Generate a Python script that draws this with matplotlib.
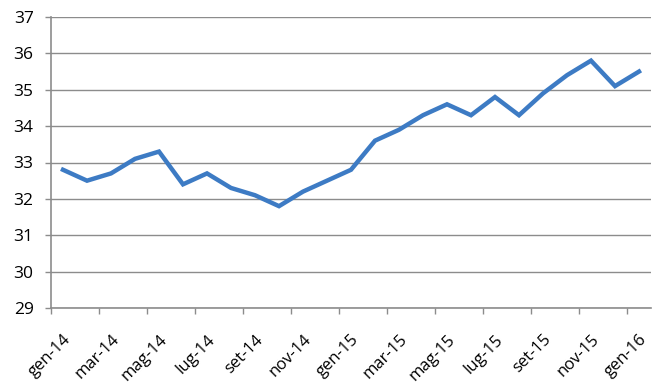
import matplotlib
matplotlib.use("Agg")
import matplotlib.pyplot as plt
from matplotlib.ticker import FixedLocator, NullFormatter

months = ["gen-14", "feb-14", "mar-14", "apr-14", "mag-14", "giu-14", "lug-14", "ago-14",
          "set-14", "ott-14", "nov-14", "dic-14", "gen-15", "feb-15", "mar-15", "apr-15",
          "mag-15", "giu-15", "lug-15", "ago-15", "set-15", "ott-15", "nov-15", "dic-15",
          "gen-16"]
values = [32.8, 32.5, 32.7, 33.1, 33.3, 32.4, 32.7, 32.3, 32.1, 31.8, 32.2, 32.5,
          32.8, 33.6, 33.9, 34.3, 34.6, 34.3, 34.8, 34.3, 34.9, 35.4, 35.8, 35.1, 35.5]
y_ticks = [29, 30, 31, 32, 33, 34, 35, 36, 37]

plt.rcParams['font.family'] = ['Open Sans', 'DejaVu Sans']

W, H = 661, 390
fig = plt.figure(figsize=(W / 100, H / 100), dpi=100)
ax = fig.add_axes([51 / W, 1 - 308 / H, 600 / W, (308 - 17) / H])

x = list(range(len(months)))
ax.plot(x, values, color="#3D7BC4", lw=3.2, solid_joinstyle="miter", zorder=3)

ax.set_xlim(-0.5, len(months) - 0.5)
ax.set_ylim(y_ticks[0], y_ticks[-1])
ax.set_yticks(y_ticks)
ax.set_yticklabels([str(v) for v in y_ticks], fontsize=12.5)
ax.yaxis.grid(True, color="#8C8C8C", lw=1.0)
ax.set_axisbelow(True)

# major ticks on category boundaries (every 2), labels on category centers
ax.xaxis.set_major_locator(FixedLocator([i - 0.5 for i in range(0, len(months) + 1, 2)]))
ax.xaxis.set_major_formatter(NullFormatter())
centers = list(range(0, len(months), 2))
ax.xaxis.set_minor_locator(FixedLocator(centers))
ax.set_xticklabels([months[i] for i in centers], minor=True, fontsize=12,
                   rotation=45, ha="right", va="top", rotation_mode="anchor")
ax.tick_params(axis="x", which="major", length=4.5, width=1, color="#8C8C8C", direction="out")
ax.tick_params(axis="x", which="minor", length=0, pad=17)
ax.tick_params(axis="y", length=4.5, width=1, color="#8C8C8C", pad=8)

for s in ["top", "right"]:
    ax.spines[s].set_visible(False)
for s in ["left", "bottom"]:
    ax.spines[s].set_color("#8C8C8C")
    ax.spines[s].set_linewidth(1.2)

fig.savefig("out.png", dpi=100)
